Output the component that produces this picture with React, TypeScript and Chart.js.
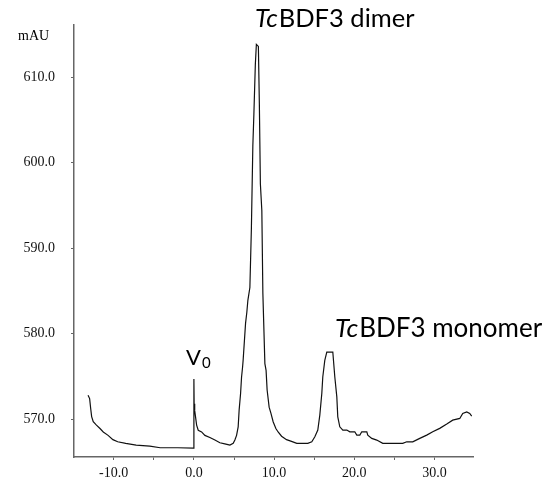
import React, { useEffect, useRef } from 'react';
import { Chart, registerables } from 'chart.js';

Chart.register(...registerables);

// Elution volume (mL) and absorbance (mAU)
const elutionVolume = [
  -13.2, -13.0, -12.87, -12.75, -12.55, -12.15, -11.71, -11.3, -10.7, -10.1,
  -9.5, -8.5, -7.2, -5.5, -4.2, -2.0, -0.05, 0.0, 0.03, 0.1,
  0.2, 0.34, 0.54, 0.96, 1.37, 1.99, 2.62, 3.24, 3.86, 4.49,
  4.9, 5.11, 5.32, 5.52, 5.64, 5.82, 5.94, 6.07, 6.14, 6.44,
  6.6, 6.73, 6.98, 7.17, 7.35, 7.48, 7.66, 7.79, 8.04, 8.16,
  8.29, 8.47, 8.6, 8.85, 9.0, 9.13, 9.38, 9.6, 9.88, 10.22,
  10.5, 10.93, 11.55, 12.17, 12.83, 14.2, 14.7, 15.08, 15.45, 15.7,
  15.95, 16.07, 16.32, 16.57, 17.32, 17.57, 17.82, 17.94, 18.19, 18.57,
  19.07, 19.44, 20.06, 20.31, 20.69, 20.93, 21.56, 21.68, 22.18, 22.8,
  23.55, 26.04, 26.54, 27.29, 28.16, 29.03, 29.78, 30.65, 31.53, 32.27,
  33.15, 33.52, 34.02, 34.39, 34.64,
];
const absorbance = [
  572.8, 572.4, 571.25, 570.3, 569.7, 569.3, 568.9, 568.5, 568.1, 567.6,
  567.35, 567.17, 566.97, 566.85, 566.65, 566.65, 566.6, 574.7, 571.8, 571.0,
  570.3, 569.3, 568.7, 568.5, 568.1, 567.85, 567.55, 567.24, 567.1, 566.97,
  567.17, 567.55, 568.1, 569.1, 571.05, 573.0, 574.9, 576.1, 576.9, 581.2,
  582.5, 583.9, 585.4, 592.4, 602.0, 605.7, 611.5, 613.85, 613.6, 607.0,
  597.5, 594.4, 584.7, 576.5, 575.7, 573.4, 571.4, 570.7, 569.7, 568.9,
  568.5, 568.0, 567.6, 567.4, 567.17, 567.17, 567.35, 567.94, 568.72, 570.47,
  573.03, 574.93, 576.88, 577.85, 577.85, 574.93, 572.6, 570.27, 569.1, 568.72,
  568.72, 568.52, 568.52, 568.13, 568.13, 568.52, 568.52, 568.13, 567.75, 567.55,
  567.17, 567.17, 567.35, 567.35, 567.75, 568.13, 568.52, 568.92, 569.42, 569.88,
  570.08, 570.66, 570.85, 570.66, 570.35,
];

const xTickValues = [-10, -5, 0, 5, 10, 15, 20, 25, 30];
const yTickValues = [570, 580, 590, 600, 610];
const xRange = [-14.95, 34.8];
const yRange = [565.57, 616.18];

const yUnitLabel = 'mAU';
const dimerLabel = ['Tc', 'BDF3 dimer'];
const monomerLabel = ['Tc', 'BDF3 monomer'];
const voidLabel = ['V', '0'];

const SANS = "Lato, 'Open Sans', sans-serif";
const SERIF = "'Liberation Serif', 'Times New Roman', serif";

function drawMixed(ctx: CanvasRenderingContext2D, parts: string[], x: number, y: number, size: number) {
  ctx.font = `italic ${size}px ${SANS}`;
  ctx.fillText(parts[0], x, y);
  const w = ctx.measureText(parts[0]).width;
  ctx.font = `${size}px ${SANS}`;
  ctx.fillText(parts[1], x + w + 1, y);
}

const annotationPlugin = {
  id: 'annotations',
  afterDraw(chart: any) {
    const ctx: CanvasRenderingContext2D = chart.ctx;
    ctx.save();
    ctx.fillStyle = '#000';
    ctx.textAlign = 'left';
    ctx.textBaseline = 'alphabetic';
    ctx.font = `14px ${SERIF}`;
    ctx.fillText(yUnitLabel, 18, 40);
    drawMixed(ctx, dimerLabel, 255, 27, 25.5);
    drawMixed(ctx, monomerLabel, 335, 337, 26);
    ctx.font = `22px ${SANS}`;
    ctx.fillText(voidLabel[0], 186, 365);
    const vw = ctx.measureText(voidLabel[0]).width;
    ctx.font = `15px ${SANS}`;
    ctx.fillText(voidLabel[1], 186 + vw + 1, 368);
    ctx.restore();
  },
};

export default function App() {
  const canvasRef = useRef<HTMLCanvasElement | null>(null);

  useEffect(() => {
    if (!canvasRef.current) return;
    const points = elutionVolume.map((x, i) => ({ x, y: absorbance[i] }));
    const chart = new Chart(canvasRef.current, {
      type: 'line',
      data: {
        datasets: [
          {
            data: points,
            borderColor: '#111',
            borderWidth: 1.2,
            pointRadius: 0,
            tension: 0,
            fill: false,
          },
        ],
      },
      options: {
        animation: false,
        responsive: false,
        maintainAspectRatio: false,
        layout: { padding: { left: 0, top: 23, right: 75, bottom: 0 } },
        plugins: { legend: { display: false }, tooltip: { enabled: false } },
        scales: {
          x: {
            type: 'linear',
            min: xRange[0],
            max: xRange[1],
            afterBuildTicks: (scale: any) => {
              scale.ticks = xTickValues.map((v) => ({ value: v }));
            },
            afterFit: (scale: any) => {
              scale.height = 26;
            },
            ticks: {
              autoSkip: false,
              maxRotation: 0,
              padding: 5,
              color: '#111',
              font: { family: SERIF, size: 14 },
              callback: (v: any) => (Number(v) % 10 === 0 ? Number(v).toFixed(1) : ''),
            },
            grid: { drawOnChartArea: false, drawTicks: true, tickLength: 3, color: '#666', lineWidth: 1 },
            border: { display: true, color: '#666', width: 1.5 },
          },
          y: {
            type: 'linear',
            min: yRange[0],
            max: yRange[1],
            afterBuildTicks: (scale: any) => {
              scale.ticks = yTickValues.map((v) => ({ value: v }));
            },
            afterFit: (scale: any) => {
              scale.width = 74;
            },
            ticks: {
              autoSkip: false,
              padding: 16,
              color: '#111',
              font: { family: SERIF, size: 14 },
              callback: (v: any) => Number(v).toFixed(1),
            },
            grid: { drawOnChartArea: false, drawTicks: true, tickLength: 3, color: '#666', lineWidth: 1 },
            border: { display: true, color: '#666', width: 1.5 },
          },
        },
      },
      plugins: [annotationPlugin],
    });
    return () => chart.destroy();
  }, []);

  return (
    <div style={{ position: 'absolute', left: 0, top: 0, width: 548, height: 483, background: '#fff' }}>
      <canvas ref={canvasRef} width={548} height={483} />
    </div>
  );
}
